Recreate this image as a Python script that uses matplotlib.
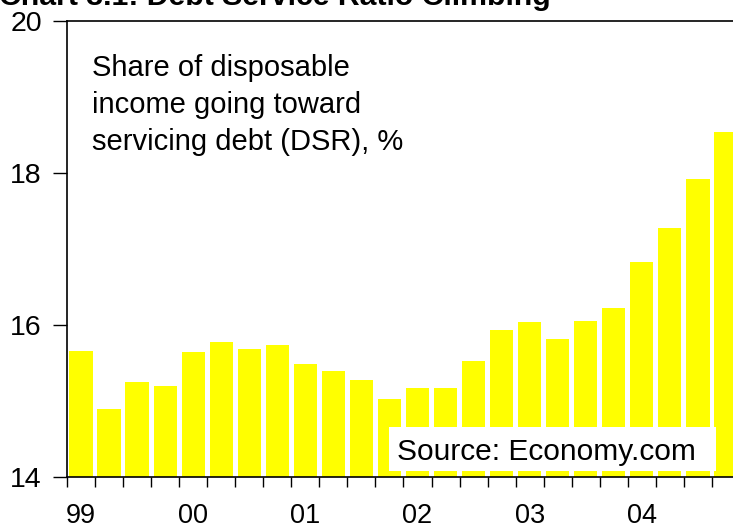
import matplotlib.pyplot as plt
from matplotlib.patches import Rectangle

plt.rcParams['font.family'] = ['Liberation Sans', 'DejaVu Sans']

years = ["99", "00", "01", "02", "03", "04"]
dsr = [15.66, 14.90, 15.25, 15.20, 15.64, 15.78, 15.68, 15.74,
       15.49, 15.40, 15.27, 15.02, 15.17, 15.17, 15.52, 15.94,
       16.04, 15.82, 16.05, 16.22, 16.83, 17.28, 17.92, 18.54]
yticks = [14, 16, 18, 20]

W, H = 733, 530
fig = plt.figure(figsize=(W / 100, H / 100), dpi=100)
ax = fig.add_axes([67 / W, (H - 477) / H, (W - 67) / W, (477 - 21) / H])

x = range(len(dsr))
ax.bar(x, dsr, width=0.83, color='#FFFF00', bottom=0)
ax.set_ylim(14, 20)
ax.set_xlim(-0.5, -0.5 + 666 / 28.04)

ax.set_yticks(yticks)
ax.set_yticklabels([str(v) for v in yticks], fontsize=20.5)
ax.tick_params(axis='y', direction='out', length=10, width=1, pad=8)

ax.set_xticks([i - 0.5 for i in x])
ax.set_xticklabels([])
ax.set_xticks([i * 4 for i in range(len(years))], minor=True)
ax.set_xticklabels(years, minor=True, fontsize=19.5)
ax.tick_params(axis='x', which='major', direction='out', length=7, width=1)
ax.tick_params(axis='x', which='minor', length=0, pad=19)

ax.spines['right'].set_visible(False)
for s in ['left', 'top', 'bottom']:
    ax.spines[s].set_linewidth(1.2)

ax.text(92, H - 54, "Share of disposable\nincome going toward\nservicing debt (DSR), %",
        transform=None, fontsize=21, va='top', ha='left', linespacing=1.42)

ax.add_patch(Rectangle((389 / W, (H - 471) / H), (716 - 389) / W, 44 / H,
                       transform=fig.transFigure, facecolor='white',
                       edgecolor='none', zorder=3, clip_on=False))
fig.text(397 / W, (H - 460) / H, "Source: Economy.com", fontsize=21.5,
         va='baseline', ha='left', zorder=4)

fig.text(-1 / W, 1 - 5 / H, "Chart 3.1: Debt Service Ratio Climbing",
         fontsize=21.8, fontweight='bold', va='baseline', ha='left')

fig.savefig('out.png', dpi=100)
